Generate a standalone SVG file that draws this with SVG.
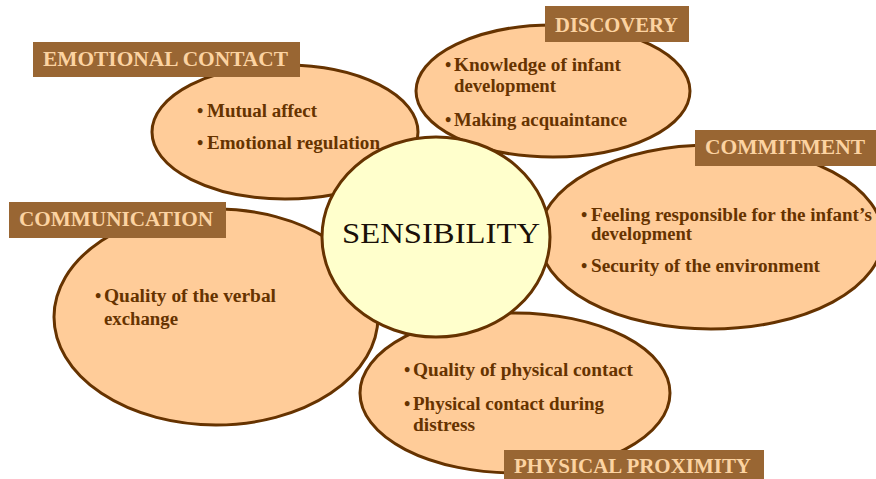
<svg xmlns="http://www.w3.org/2000/svg" width="876" height="479" viewBox="0 0 876 479">
<style>
.pet{fill:#FFCC99;stroke:#663300;stroke-width:3}
.core{fill:#FFFFCC;stroke:#663300;stroke-width:3}
.lab{fill:#996633}
.labt{font-family:"Liberation Serif",serif;font-weight:bold;font-size:22px;fill:#FCD3A1}
.b{font-family:"Liberation Serif",serif;font-weight:bold;font-size:18px;fill:#663300}
.big{font-family:"Liberation Serif",serif;font-size:30px;fill:#1a1008}
</style>
<rect width="876" height="479" fill="#ffffff"/>
<g id="connectors"></g>
<g id="communication">
<ellipse class="pet" cx="216" cy="317" rx="162" ry="108"/>
<rect class="lab" x="9" y="202" width="217" height="36"/>
<text class="labt" x="19" y="226" textLength="194" lengthAdjust="spacingAndGlyphs">COMMUNICATION</text>
<text class="b" x="95" y="302">•</text>
<text class="b" x="104" y="302" textLength="172" lengthAdjust="spacingAndGlyphs">Quality of  the verbal</text>
<text class="b" x="104" y="325" textLength="74" lengthAdjust="spacingAndGlyphs">exchange</text>
</g>
<g id="physical-proximity">
<ellipse class="pet" cx="515" cy="393" rx="155" ry="80"/>
<rect class="lab" x="504" y="450" width="260" height="32"/>
<text class="labt" x="514" y="473" textLength="237" lengthAdjust="spacingAndGlyphs">PHYSICAL PROXIMITY</text>
<text class="b" x="404" y="376">•</text>
<text class="b" x="413" y="376" textLength="220" lengthAdjust="spacingAndGlyphs">Quality of  physical contact</text>
<text class="b" x="404" y="410">•</text>
<text class="b" x="413" y="410" textLength="191" lengthAdjust="spacingAndGlyphs">Physical contact during</text>
<text class="b" x="413" y="431" textLength="62" lengthAdjust="spacingAndGlyphs">distress</text>
</g>
<g id="emotional-contact">
<ellipse class="pet" cx="285" cy="132" rx="133" ry="67"/>
<rect class="lab" x="33" y="42" width="267" height="35"/>
<text class="labt" x="43" y="66" textLength="245" lengthAdjust="spacingAndGlyphs">EMOTIONAL CONTACT</text>
<text class="b" x="197" y="117">•</text>
<text class="b" x="207" y="117" textLength="110" lengthAdjust="spacingAndGlyphs">Mutual affect</text>
<text class="b" x="197" y="149">•</text>
<text class="b" x="207" y="149" textLength="173" lengthAdjust="spacingAndGlyphs">Emotional regulation</text>
</g>
<g id="discovery">
<ellipse class="pet" cx="553" cy="91" rx="137" ry="66"/>
<rect class="lab" x="545" y="6" width="144" height="36"/>
<text class="labt" x="555" y="32" textLength="123" lengthAdjust="spacingAndGlyphs">DISCOVERY</text>
<text class="b" x="445" y="71">•</text>
<text class="b" x="454" y="71" textLength="167" lengthAdjust="spacingAndGlyphs">Knowledge of  infant</text>
<text class="b" x="454" y="92" textLength="102" lengthAdjust="spacingAndGlyphs">development</text>
<text class="b" x="445" y="126">•</text>
<text class="b" x="454" y="126" textLength="173" lengthAdjust="spacingAndGlyphs">Making acquaintance</text>
</g>
<g id="commitment">
<ellipse class="pet" cx="711" cy="237" rx="172" ry="92"/>
<rect class="lab" x="695" y="130" width="181" height="36"/>
<text class="labt" x="705" y="154" textLength="160" lengthAdjust="spacingAndGlyphs">COMMITMENT</text>
<text class="b" x="581" y="221">•</text>
<text class="b" x="591" y="221" textLength="281" lengthAdjust="spacingAndGlyphs">Feeling responsible for the infant’s</text>
<text class="b" x="591" y="240" textLength="101" lengthAdjust="spacingAndGlyphs">development</text>
<text class="b" x="581" y="272">•</text>
<text class="b" x="591" y="272" textLength="229" lengthAdjust="spacingAndGlyphs">Security of  the environment</text>
</g>
<g id="sensibility">
<ellipse class="core" cx="436" cy="237" rx="114" ry="100"/>
<text class="big" x="342" y="243" textLength="198" lengthAdjust="spacingAndGlyphs">SENSIBILITY</text>
</g>
</svg>
